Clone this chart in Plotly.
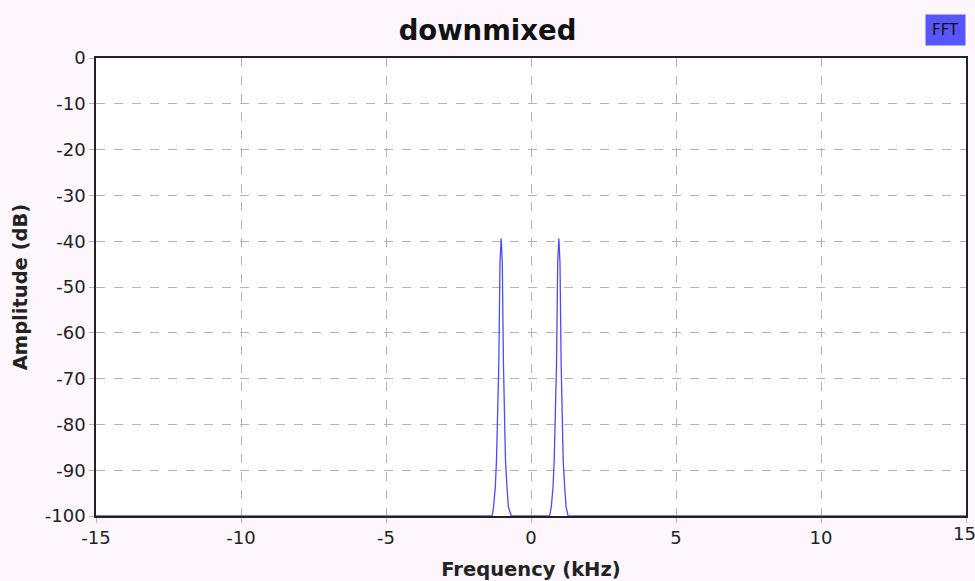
import plotly.graph_objects as go

# Spectrum data (frequency in kHz, amplitude in dB)
freq_khz = [-15.0, -1.34, -1.29, -1.23, -1.19, -1.14, -1.11, -1.07, -1.05, -1.03, -1.01, -0.99, -0.95, -0.92, -0.88, -0.83, -0.78, -0.68,
            0.64, 0.70, 0.76, 0.80, 0.85, 0.88, 0.92, 0.94, 0.96, 0.98, 1.00, 1.04, 1.07, 1.11, 1.16, 1.21, 1.28, 15.0]
amp_db = [-100, -100, -98, -93.6, -87.8, -76.5, -67, -44.8, -41.9, -39.4, -41.9, -44.8, -67, -76.5, -87.8, -93.6, -98, -100,
          -100, -98, -93.6, -87.8, -76.5, -67, -44.8, -41.9, -39.4, -41.9, -44.8, -67, -76.5, -87.8, -93.6, -98, -100, -100]

x_ticks = [-15, -10, -5, 0, 5, 10, 15]
y_ticks = [0, -10, -20, -30, -40, -50, -60, -70, -80, -90, -100]

fig = go.Figure()
fig.add_trace(go.Scatter(x=freq_khz, y=amp_db, mode="lines",
                         line=dict(color="#4c4cf0", width=1.3), hoverinfo="x+y"))

font_family = "DejaVu Sans"
fig.update_layout(
    width=975, height=581,
    margin=dict(l=96, r=9, t=58, b=65),
    paper_bgcolor="#fdf6fd",
    plot_bgcolor="#ffffff",
    showlegend=False,
    font=dict(family=font_family, color="#222222", size=18),
    title=dict(text="<b>downmixed</b>", x=0.5, xanchor="center", y=0.948, yanchor="middle",
               font=dict(size=27.5, color="#111111")),
    xaxis=dict(range=[-15, 15], tickvals=x_ticks, ticktext=[str(v) for v in x_ticks],
               showgrid=True, gridcolor="#b4b4b4", griddash="dash", gridwidth=1,
               showline=True, linecolor="#222222", linewidth=1.5, mirror=True,
               zeroline=False, ticks="outside", ticklen=5, tickcolor="#b4b4b4",
               tickfont=dict(size=18), automargin=False,
               title=dict(text="<b>Frequency (kHz)</b>", font=dict(size=19.5), standoff=15)),
    yaxis=dict(range=[-100, 0], tickvals=y_ticks, ticktext=[str(v) for v in y_ticks],
               showgrid=True, gridcolor="#b4b4b4", griddash="dash", gridwidth=1,
               showline=True, linecolor="#222222", linewidth=1.5, mirror=True,
               zeroline=False, ticks="outside", ticklen=5, tickcolor="#b4b4b4",
               tickfont=dict(size=18), automargin=False,
               title=dict(text="<b>Amplitude (dB)</b>", font=dict(size=19.5), standoff=12)),
)

# last x tick label overflows the page edge (plotly hides it), draw it as text
fig.add_annotation(text=str(x_ticks[-1]), xref="x", yref="paper", x=x_ticks[-1], y=0,
                   xanchor="center", yanchor="top", yshift=-5, xshift=-2, showarrow=False,
                   font=dict(size=18, color="#222222", family=font_family))

fig.add_annotation(text="FFT", xref="paper", yref="paper", x=1.0, y=1.0, xanchor="right", yanchor="bottom",
                   yshift=12, showarrow=False, bgcolor="#5656fa", borderpad=6,
                   font=dict(size=15, color="#111111", family=font_family))

fig.write_html("out.html")
